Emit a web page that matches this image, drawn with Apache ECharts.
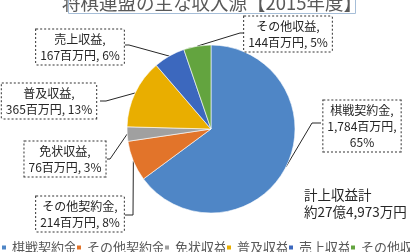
<!DOCTYPE html>
<html><head><meta charset="utf-8">
<script src="https://cdn.jsdelivr.net/npm/echarts@6/dist/echarts.min.js"></script>
<style>html,body{margin:0;padding:0;background:#fff}#c{width:410px;height:252px}</style>
</head><body><div id="c"></div>
<script>
const titleText = '将棋連盟の主な収入源【2015年度】';
const categories = ['棋戦契約金', 'その他契約金', '免状収益', '普及収益', '売上収益', 'その他収益'];
const values = [1784, 214, 76, 365, 167, 144];
const colors = ['#4F86C6', '#E2742A', '#A0A0A0', '#E9AE00', '#3C68BE', '#63A43F'];
const totalLines = ['計上収益計', '約27億4,973万円'];

// label layout (box centre, elbow, end of leader line)
const labelLayouts = [
  {c: [362, 126], elbow: [312, 123], end: [321, 123]},
  {c: [80, 214], elbow: [133, 215], end: [125, 215]},
  {c: [65, 159], elbow: [110, 159], end: [107, 159]},
  {c: [49, 101], elbow: [106, 101], end: [100, 101]},
  {c: [80, 47], elbow: [129, 45], end: [125, 45]},
  {c: [288, 34], elbow: [240, 33], end: [243, 33]}
];

const fmtNum = v => v.toLocaleString('en-US');
const chart = echarts.init(document.getElementById('c'), null, {renderer: 'canvas'});
const font = "'Noto Sans CJK JP', sans-serif";
chart.setOption({
  animation: false,
  color: colors,
  title: [{
    text: titleText,
    left: 212,
    textAlign: 'center',
    top: -6,
    padding: 0,
    textStyle: {fontFamily: font, fontSize: 18.5, fontWeight: 'normal', color: '#595959'}
  }, {
    text: totalLines.join('\n'),
    left: 304,
    top: 186,
    padding: 0,
    textStyle: {fontFamily: font, fontSize: 13.5, fontWeight: 'normal', color: '#262626', lineHeight: 17}
  }],
  graphic: {
    elements: [{
      type: 'rect',
      silent: true,
      z: 100,
      x: 68.5,
      y: -20.5,
      shape: {x: 0, y: 0, width: 287, height: 34},
      style: {fill: null, stroke: '#A6BED8', lineWidth: 1}
    }]
  },
  legend: {
    left: 0,
    top: 241,
    width: 800,
    itemWidth: 6,
    itemHeight: 6,
    itemGap: -2,
    icon: 'rect',
    padding: 0,
    data: categories,
    textStyle: {fontFamily: font, fontSize: 13, color: '#595959'}
  },
  series: [{
    type: 'pie',
    center: [211, 129],
    radius: 84,
    startAngle: 90,
    clockwise: true,
    avoidLabelOverlap: false,
    itemStyle: {borderColor: '#fff', borderWidth: 0.6},
    data: categories.map((n, i) => ({name: n, value: values[i]})),
    label: {
      show: true,
      fontFamily: font,
      fontSize: 12,
      lineHeight: 16,
      color: '#262626',
      align: 'center',
      backgroundColor: '#fff',
      borderColor: '#333',
      borderWidth: 1,
      borderType: 'dotted',
      padding: [2, 4, 1, 4],
      formatter: p => {
        const pct = Math.round(p.percent) + '%';
        if (p.dataIndex === 0) return p.name + ',\n' + fmtNum(p.value) + '百万円,\n' + pct;
        return p.name + ',\n' + fmtNum(p.value) + '百万円, ' + pct;
      }
    },
    labelLine: {show: true, length: 10, length2: 10, lineStyle: {color: '#262626', width: 1}},
    labelLayout: function (params) {
      const L = labelLayouts[params.dataIndex];
      const a = params.labelLinePoints ? params.labelLinePoints[0] : L.elbow;
      return {
        x: L.c[0], y: L.c[1], align: 'center', verticalAlign: 'middle',
        labelLinePoints: [a, L.elbow, L.end]
      };
    }
  }]
});
</script></body></html>
